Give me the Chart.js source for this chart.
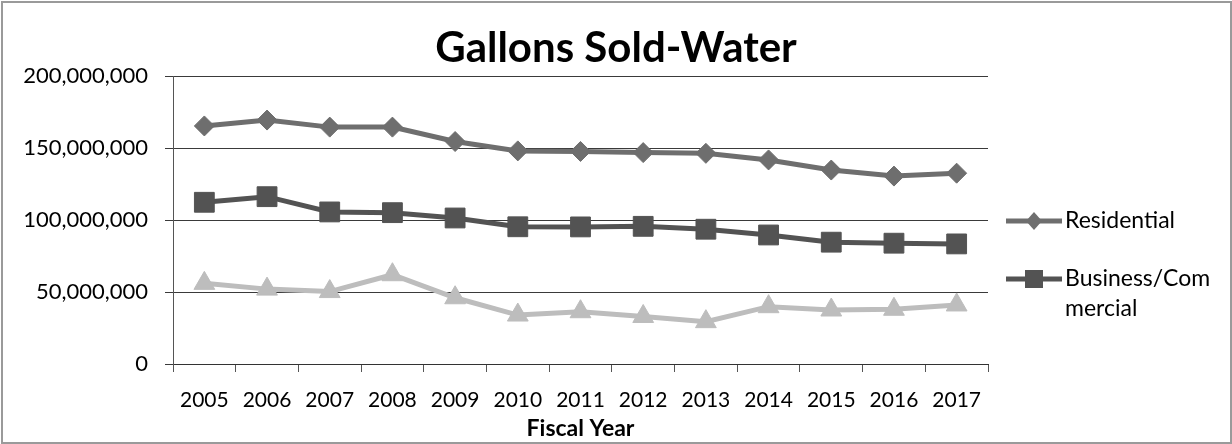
<!DOCTYPE html>
<html>
<head>
<meta charset="utf-8">
<script src="https://cdn.jsdelivr.net/npm/chart.js@4.4.1/dist/chart.umd.min.js"></script>
<style>
  html, body { margin: 0; padding: 0; background: #fff; }
  #wrap { width: 1232px; height: 444px; position: relative; }
</style>
</head>
<body>
<div id="wrap"><canvas id="chart" width="1232" height="444"></canvas></div>
<script>
// Fiscal years on the category axis
const years = ['2005', '2006', '2007', '2008', '2009', '2010', '2011', '2012', '2013', '2014', '2015', '2016', '2017'];

// Gallons sold per year
const residential = [165.3e6, 169.4e6, 164.5e6, 164.5e6, 154.5e6, 148.0e6, 147.6e6, 146.8e6, 146.3e6, 141.7e6, 134.7e6, 130.5e6, 132.5e6];
const business    = [112.3e6, 116.2e6, 105.6e6, 105.1e6, 101.4e6, 95.3e6, 95.2e6, 95.6e6, 93.6e6, 89.6e6, 84.6e6, 83.9e6, 83.4e6];
const other       = [56.0e6, 52.0e6, 50.3e6, 62.0e6, 46.0e6, 34.0e6, 36.3e6, 33.0e6, 29.4e6, 39.8e6, 37.5e6, 38.0e6, 41.0e6];

// Value axis ticks
const yTicks = [0, 50e6, 100e6, 150e6, 200e6];

const chartTitle = 'Gallons Sold-Water';

const FONT = 'Lato, "Open Sans", sans-serif';
const RES_COLOR = '#6e6e6e';
const BUS_COLOR = '#535353';
const OTH_COLOR = '#bdbdbd';

// White page with a thin frame, and the title centred across the full width
const framePlugin = {
  id: 'frame',
  beforeDraw(chart) {
    const ctx = chart.ctx;
    ctx.save();
    ctx.fillStyle = '#fff';
    ctx.fillRect(0, 0, chart.width, chart.height);
    ctx.strokeStyle = '#9a9a9a';
    ctx.lineWidth = 2;
    ctx.strokeRect(2, 2, chart.width - 3, chart.height - 3);
    ctx.fillStyle = '#000';
    ctx.font = 'bold 42px ' + FONT;
    ctx.textAlign = 'center';
    ctx.textBaseline = 'alphabetic';
    ctx.fillText(chartTitle, chart.width / 2, 62);
    ctx.restore();
  }
};

// Legend on the right, with wrapped labels
const sideLegend = {
  id: 'sideLegend',
  afterDraw(chart) {
    const ctx = chart.ctx;
    const entries = [
      { ds: 0, lines: ['Residential'], y: 221, shape: 'diamond' },
      { ds: 1, lines: ['Business/Com', 'mercial'], y: 279, shape: 'square' }
    ];
    ctx.save();
    ctx.font = '23px ' + FONT;
    ctx.textBaseline = 'middle';
    ctx.textAlign = 'left';
    entries.forEach(e => {
      const ds = chart.data.datasets[e.ds];
      const x0 = 1006, x1 = 1062, xm = 1034;
      ctx.strokeStyle = ds.borderColor;
      ctx.lineWidth = 5;
      ctx.beginPath();
      ctx.moveTo(x0, e.y);
      ctx.lineTo(x1, e.y);
      ctx.stroke();
      ctx.fillStyle = ds.pointBackgroundColor;
      ctx.beginPath();
      if (e.shape === 'diamond') {
        ctx.moveTo(xm - 8, e.y);
        ctx.lineTo(xm, e.y - 9);
        ctx.lineTo(xm + 8, e.y);
        ctx.lineTo(xm, e.y + 9);
        ctx.closePath();
      } else {
        ctx.rect(xm - 9, e.y - 9, 18, 18);
      }
      ctx.fill();
      ctx.fillStyle = '#000';
      e.lines.forEach((t, i) => ctx.fillText(t, 1065, e.y + i * 30));
    });
    ctx.restore();
  }
};

new Chart(document.getElementById('chart'), {
  type: 'line',
  data: {
    labels: years,
    datasets: [
      {
        label: 'Residential',
        data: residential,
        borderColor: RES_COLOR,
        backgroundColor: RES_COLOR,
        pointBackgroundColor: RES_COLOR,
        pointBorderColor: RES_COLOR,
        borderWidth: 5,
        pointStyle: 'rectRot',
        pointRadius: 10,
        pointBorderWidth: 1,
        tension: 0
      },
      {
        label: 'Business/Commercial',
        data: business,
        borderColor: BUS_COLOR,
        backgroundColor: BUS_COLOR,
        pointBackgroundColor: BUS_COLOR,
        pointBorderColor: BUS_COLOR,
        borderWidth: 5,
        pointStyle: 'rect',
        pointRadius: 14,
        pointBorderWidth: 1,
        tension: 0
      },
      {
        label: 'Other',
        data: other,
        borderColor: OTH_COLOR,
        backgroundColor: OTH_COLOR,
        pointBackgroundColor: OTH_COLOR,
        pointBorderColor: OTH_COLOR,
        borderWidth: 5,
        pointStyle: 'triangle',
        pointRadius: 12,
        pointBorderWidth: 1,
        tension: 0
      }
    ]
  },
  options: {
    responsive: false,
    animation: false,
    devicePixelRatio: 1,
    layout: { padding: { top: 76, right: 244, bottom: 0, left: 0 } },
    plugins: {
      legend: { display: false },
      tooltip: { enabled: false },
      title: { display: false }
    },
    scales: {
      x: {
        type: 'category',
        offset: true,
        grid: {
          display: true,
          offset: true,
          drawOnChartArea: false,
          drawTicks: true,
          tickLength: 8,
          color: '#555',
          lineWidth: 1
        },
        border: { display: true, color: '#333', width: 1 },
        ticks: {
          color: '#000',
          padding: 16,
          maxRotation: 0,
          autoSkip: false,
          font: { family: FONT, size: 21, lineHeight: 1.2 }
        },
        title: {
          display: true,
          text: 'Fiscal Year',
          color: '#000',
          font: { family: FONT, size: 23, weight: 'bold', lineHeight: 1.2 },
          padding: { top: 0, bottom: 1.2 }
        },
        afterFit(scale) { scale.height = 80; }
      },
      y: {
        min: 0,
        max: 200e6,
        grid: {
          color: '#3a3a3a',
          lineWidth: 1,
          drawTicks: true,
          tickLength: 8
        },
        border: { display: true, color: '#555', width: 1 },
        ticks: {
          color: '#000',
          padding: 17,
          font: { family: FONT, size: 22, lineHeight: 1.2 },
          callback: v => v.toLocaleString('en-US')
        },
        afterBuildTicks(scale) { scale.ticks = yTicks.map(v => ({ value: v })); },
        afterFit(scale) { scale.width = 173; }
      }
    }
  },
  plugins: [framePlugin, sideLegend]
});
</script>
</body>
</html>
